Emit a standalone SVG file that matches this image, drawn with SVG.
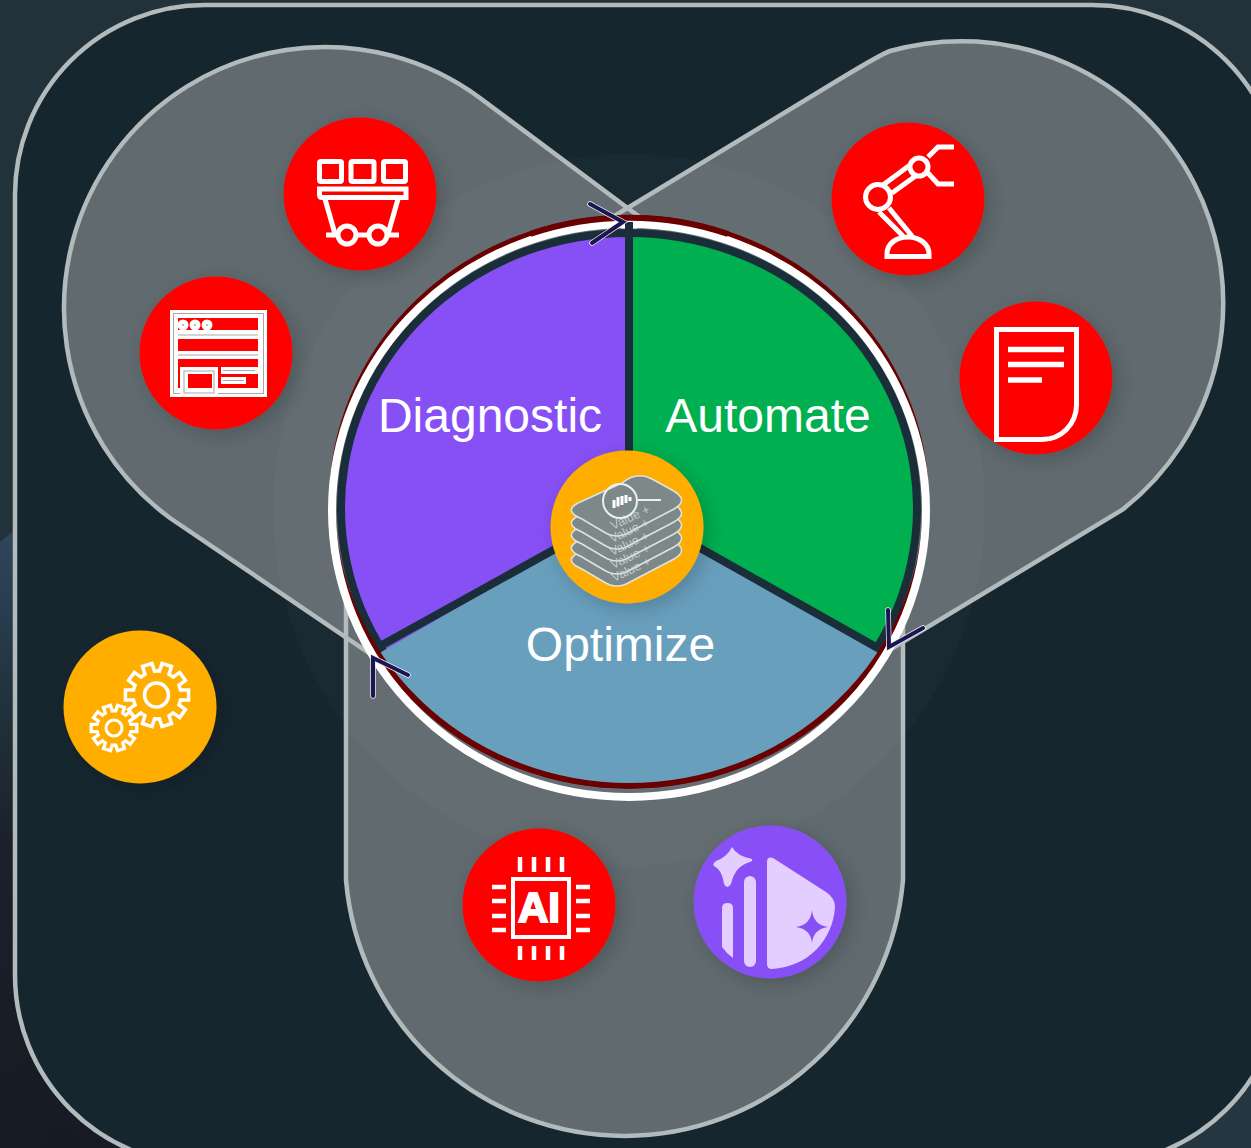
<svg xmlns="http://www.w3.org/2000/svg" width="1251" height="1148" viewBox="0 0 1251 1148">
<style>
.blobfill{fill:#616b6f}
.blobline{fill:none;stroke:#b3babb;stroke-width:4.500}
.disc{filter:url(#sh)}
.red{fill:#ff0000}
.amber{fill:#ffae00}
.violet{fill:#8750f5}
.ic{fill:none;stroke:#fff;stroke-width:5}
.pins{fill:none;stroke:#fff;stroke-width:4.500}
.label{font-family:"Liberation Sans",Arial,sans-serif;font-size:48px;fill:#fff;text-anchor:middle}
.arc{stroke:#1a2e3a;stroke-width:8;fill:none}
.chev-o{fill:none;stroke:#e8e8f0;stroke-width:5.500;stroke-linecap:round;stroke-linejoin:miter}
.chev{fill:none;stroke:#1c1650;stroke-width:4;stroke-linecap:round;stroke-linejoin:miter}
.card{fill:#7d8888;stroke:#dfe3e3;stroke-width:1.500}
.val{font-family:"Liberation Sans",Arial,sans-serif;font-size:12.500px;fill:#d3d9d9;fill-opacity:.85}
.lil{fill:#e3ceff}
</style>
<defs>
<filter id="sh" x="-30%" y="-30%" width="170%" height="170%"><feDropShadow dx="5" dy="5" stdDeviation="10" flood-color="#000" flood-opacity=".2"/></filter>
<radialGradient id="dk" gradientUnits="userSpaceOnUse" cx="60" cy="1148" r="520"><stop offset="0" stop-color="#161b23"/><stop offset=".6" stop-color="#1a212a"/><stop offset="1" stop-color="#22323b" stop-opacity="0"/></radialGradient>
<linearGradient id="bl" x1="0" y1="0" x2="0" y2="1"><stop offset="0" stop-color="#2f465c"/><stop offset="1" stop-color="#20303a"/></linearGradient>
<path id="bL" d="M641,218 L480,98 A261 261 0 0 0 170,518 L372,655 Z"/>
<path id="bR" d="M616,215 L835,82 Q883,53 890,51 A262 262 0 0 1 1122,510 L888,651 Z"/>
<path id="bB" d="M346,590 V880 A279.500 279.500 0 0 0 903,880 V590 Z"/>
<path id="tooth" d="M-7.4,-22.8 L-5,-23.5 L-5,-31.6 L5,-31.6 L5,-23.5 L7.4,-22.8"/>
<g id="gear" fill="none" stroke="#fff" stroke-linejoin="miter">
<use href="#tooth"/><use href="#tooth" transform="rotate(36)"/><use href="#tooth" transform="rotate(72)"/><use href="#tooth" transform="rotate(108)"/><use href="#tooth" transform="rotate(144)"/><use href="#tooth" transform="rotate(180)"/><use href="#tooth" transform="rotate(216)"/><use href="#tooth" transform="rotate(252)"/><use href="#tooth" transform="rotate(288)"/><use href="#tooth" transform="rotate(324)"/>
</g>
<path id="cardp" class="card" d="M622,483 Q637,471 652,479 L672,490 Q690,500 674,509 L630,532 Q617,540 604,532 L582,519 Q563,511 578,503 Z"/>
</defs>

<g id="background">
<rect width="1251" height="1148" fill="#22323b"/>
<rect width="1251" height="1148" fill="url(#dk)"/>
<path d="M0,542 L15,530 V720 H0 Z" fill="url(#bl)"/>
<path d="M1170,1148 L1251,1070 V1148 Z" fill="#24363f"/>
</g>

<g id="container"><rect x="15" y="5" width="1267" height="1160" rx="190" ry="190" fill="#16262f" stroke="#b3babb" stroke-width="4.500"/></g>

<g id="petals">
<use href="#bL" class="blobfill"/><use href="#bR" class="blobfill"/><use href="#bB" class="blobfill"/>
<use href="#bL" class="blobline"/><use href="#bR" class="blobline"/><use href="#bB" class="blobline"/>
<circle cx="629" cy="510" r="356" fill="#fff" fill-opacity=".018"/>
</g>

<g id="wheel">
<path id="seg-optimize" d="M629,508 L376,654 A297 284 0 0 0 882,654 Z" fill="#689fbd"/>
<path id="seg-diagnostic" d="M629,508 L383,651 A288 275 0 0 1 629,233 Z" fill="#8750f5"/>
<path id="seg-automate" d="M629,508 L629,233 A288 275 0 0 1 875,651 Z" fill="#00b050"/>
<path class="arc" d="M383,651 A288 275 0 1 1 875,651"/>
<ellipse cx="629" cy="502" rx="297" ry="284" fill="none" stroke="#6b0000" stroke-width="6"/>
<ellipse cx="629" cy="510.500" rx="297" ry="286.500" fill="none" stroke="#fff" stroke-width="8"/>
<path class="arc" d="M629,222 V508 M629,508 L382,645 M629,508 L876,647"/>
<path d="M530,234 A297 284 0 0 1 728,234" fill="none" stroke="#6b0000" stroke-width="6"/>
<text class="label" x="490" y="432">Diagnostic</text>
<text class="label" x="768" y="432">Automate</text>
<text class="label" x="620.500" y="661">Optimize</text>
</g>

<g id="connectors">
<path class="chev-o" d="M590,204 L623,222 L592,243"/><path class="chev" d="M590,204 L623,222 L592,243"/>
<path class="chev-o" d="M888,610 L889,647 L923,628"/><path class="chev" d="M888,610 L889,647 L923,628"/>
<path class="chev-o" d="M373,696 L373,658 L408,675"/><path class="chev" d="M373,696 L373,658 L408,675"/>
</g>

<g id="node-cart">
<circle class="disc red" cx="360" cy="194" r="76.500"/>
<g class="ic">
<rect x="319.500" y="161.500" width="22" height="20" rx="1.500"/><rect x="351" y="161.500" width="23" height="20" rx="1.500"/><rect x="383.500" y="161.500" width="22" height="20" rx="1.500"/>
<path d="M406,189 H319.500 V195 Q319.500,197.500 322,197.500 H406 Z"/>
<path d="M325,199 L335,234 M398,199 L388,234"/>
<path d="M326,235 H399"/>
<circle cx="347" cy="235" r="9" fill="#ff0000"/><circle cx="378" cy="235" r="9" fill="#ff0000"/>
</g>
</g>

<g id="node-window">
<circle class="disc red" cx="216" cy="353" r="76.500"/>
<rect x="170" y="310" width="97" height="87" fill="#fff"/>
<rect x="173.500" y="313.500" width="90" height="80" fill="none" stroke="#a8a8a8" stroke-width="1"/>
<rect x="178" y="318" width="80" height="12" fill="#ff0000"/>
<rect x="178" y="339" width="80" height="12" fill="#ff0000"/>
<rect x="178" y="359" width="80" height="29" fill="#ff0000"/>
<path d="M178,335 H258 M178,355 H258" stroke="#a8a8a8" stroke-width="1"/>
<circle cx="183" cy="325" r="5.500" fill="#fff"/><circle cx="195" cy="325" r="5.500" fill="#fff"/><circle cx="207" cy="325" r="5.500" fill="#fff"/>
<circle cx="183" cy="325" r="1" fill="#a8a8a8"/><circle cx="195" cy="325" r="1" fill="#a8a8a8"/><circle cx="207" cy="325" r="1" fill="#a8a8a8"/>
<rect x="180" y="367" width="38" height="30" fill="#fff"/>
<rect x="184" y="371" width="30" height="22" fill="none" stroke="#a8a8a8" stroke-width="1"/>
<rect x="188" y="374" width="24" height="14" fill="#ff0000"/>
<rect x="221" y="367" width="37" height="7" fill="#fff"/><path d="M223,370.500 H255" stroke="#a8a8a8" stroke-width="1"/>
<rect x="221" y="377" width="25" height="7" fill="#fff"/><path d="M223,380.500 H244" stroke="#a8a8a8" stroke-width="1"/>
</g>

<g id="node-robot">
<circle class="disc red" cx="908" cy="199" r="76.500"/>
<g class="ic">
<path d="M883,185 L910,165 M892,193 L917,175"/>
<path d="M879,212 L903,236 M889,208 L912,236"/>
<circle cx="878" cy="197" r="12.500" fill="#ff0000"/><circle cx="919" cy="167" r="9" fill="#ff0000"/>
<path d="M887,256.500 H929 V254 C929,243 918,237 908,237 C897,237 887,243 887,254 Z"/>
<path d="M928,157 L938,147 H954 M928,173 L938,184 H954"/>
</g>
</g>

<g id="node-doc">
<circle class="disc red" cx="1036" cy="378" r="76.500"/>
<path d="M996.500,329.500 H1076.500 V405 A34.500 34.500 0 0 1 1042,439.500 H996.500 Z" fill="none" stroke="#fff" stroke-width="5"/>
<path d="M1008,349.500 H1064 M1008,364.500 H1064 M1008,380 H1042" stroke="#fff" stroke-width="5.500" fill="none"/>
</g>

<g id="node-ai">
<circle class="disc red" cx="539" cy="905" r="76.500"/>
<rect x="513" y="879" width="56" height="58" fill="none" stroke="#fff" stroke-width="4"/>
<text x="539" y="922" font-family="Liberation Sans,Arial,sans-serif" font-size="42" font-weight="700" fill="#fff" stroke="#fff" stroke-width="2" text-anchor="middle">AI</text>
<path class="pins" d="M520,857 V872 M534,857 V872 M548,857 V872 M562,857 V872 M520,946 V960 M534,946 V960 M548,946 V960 M562,946 V960 M492,887 H506 M492,901 H506 M492,916 H506 M492,930 H506 M576,887 H590 M576,901 H590 M576,916 H590 M576,930 H590"/>
</g>

<g id="node-spark">
<circle class="disc violet" cx="770" cy="902" r="76.500"/>
<path class="lil" d="M732,847 Q737,856 752,859 Q753,861 750,862 Q735,866 731,884 Q727,890 724,884 Q722,870 714,866 Q712,864 716,861 Q727,857 732,847 Z"/>
<path class="lil" d="M722,908 Q722,903 727.500,903 Q733,903 733,908 V958 Q726,953 722,947 Z"/>
<rect class="lil" x="744" y="876" width="12" height="91" rx="6"/>
<path class="lil" d="M767,862 Q767,856 773,858 L826,892 Q835,898 835,907 C833,940 808,967 772,969 Q767,969 767,964 Z"/>
<path class="violet" d="M812,910 Q813.500,925 828,927 Q813.500,929 812,943 Q810.500,929 796,927 Q810.500,925 812,910 Z"/>
</g>

<g id="node-gears">
<circle class="disc amber" cx="140" cy="707" r="76.500"/>
<g transform="translate(157,695) rotate(18)" stroke-width="3.500"><use href="#gear"/></g>
<circle cx="156.500" cy="695" r="12" fill="none" stroke="#fff" stroke-width="3.500"/>
<g transform="translate(114,728) rotate(18) scale(.72)" stroke-width="4.600"><use href="#gear"/></g>
<circle cx="114" cy="728" r="8" fill="none" stroke="#fff" stroke-width="3"/>
</g>

<g id="node-center">
<circle class="disc amber" cx="627" cy="527" r="76.500"/>
<use href="#cardp" y="50"/><use href="#cardp" y="38"/><use href="#cardp" y="25"/><use href="#cardp" y="13"/><use href="#cardp"/>
<text class="val" transform="translate(613,530) rotate(-25)">Value +</text>
<text class="val" transform="translate(612,543) rotate(-25)">Value +</text>
<text class="val" transform="translate(612,556) rotate(-25)">Value +</text>
<text class="val" transform="translate(613,569) rotate(-25)">Value +</text>
<text class="val" transform="translate(614,582) rotate(-25)">Value +</text>
<circle cx="620" cy="501" r="17" fill="none" stroke="#eef0f0" stroke-width="2"/>
<path d="M638,500 H661" stroke="#eef0f0" stroke-width="2"/>
<path d="M614,500 V508 M618,497 V506.500 M622,496 V505 M626,495 V503 M630,497 V501" stroke="#fff" stroke-width="3" fill="none"/>
</g>
</svg>
